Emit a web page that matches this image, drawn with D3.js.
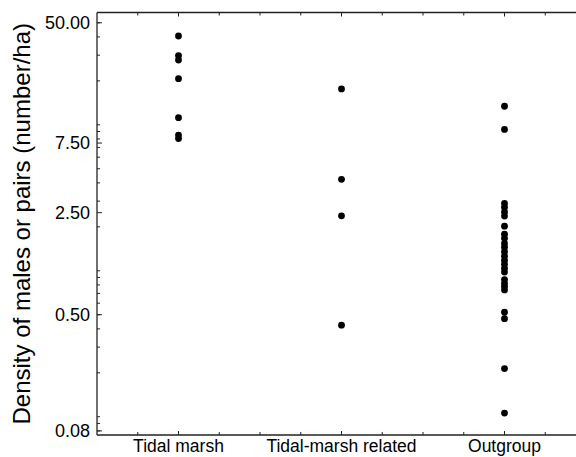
<!DOCTYPE html>
<html>
<head>
<meta charset="utf-8">
<script src="https://cdn.jsdelivr.net/npm/d3@7"></script>
<style>
  html, body { margin: 0; padding: 0; background: #fff; }
  svg { display: block; }
  text { font-family: "Liberation Sans", Arial, Helvetica, sans-serif; fill: #000; }
</style>
</head>
<body>
<script>
// Breeding density by group (number of males or pairs per ha)
const categories = ["Tidal marsh", "Tidal-marsh related", "Outgroup"];
const tidalMarsh = [40.6, 29.8, 27.8, 20.7, 11.2, 8.5, 8.05];
const tidalMarshRelated = [17.6, 4.23, 2.38, 0.424];
const outgroup = [13.4, 9.3, 2.89, 2.72, 2.53, 2.37, 2.02, 1.78, 1.67, 1.54, 1.45,
  1.35, 1.26, 1.18, 1.11, 1.04, 0.98, 0.87, 0.82, 0.78, 0.74, 0.52, 0.47, 0.214, 0.106];
const yTickValues = [0.08, 0.5, 2.5, 7.5, 50];
const yTickLabels = ["0.08", "0.50", "2.50", "7.50", "50.00"];
const yTitle = "Density of males or pairs (number/ha)";

const series = [tidalMarsh, tidalMarshRelated, outgroup];

const W = 576, H = 457;
const margin = { left: 97, top: 12.5, bottom: 22 };
const plotRight = 586;   // frame continues past the right edge of the page
const plotBottom = H - margin.bottom;

const svg = d3.select("body").append("svg")
  .attr("width", W).attr("height", H);

// x: category index, half a step of room on either side
const x = d3.scaleLinear().domain([0.5, 3.5]).range([margin.left, plotRight]);
const y = d3.scaleLog().domain([0.075, 58.8]).range([plotBottom, margin.top]);

const axisColor = "#222";

// minor x ticks at quarter steps, majors at the categories
const xMinor = d3.range(0.75, 3.5, 0.25);
const xMajor = [1, 2, 3];

const frame = svg.append("g");
// frame lines: left, bottom, top
frame.append("line").attr("x1", margin.left).attr("x2", margin.left)
  .attr("y1", margin.top).attr("y2", plotBottom);
frame.append("line").attr("x1", margin.left).attr("x2", plotRight)
  .attr("y1", plotBottom).attr("y2", plotBottom);
frame.append("line").attr("x1", margin.left).attr("x2", plotRight)
  .attr("y1", margin.top).attr("y2", margin.top);
frame.selectAll("line").attr("stroke", axisColor).attr("stroke-width", 1.3);

// x ticks, pointing inward on bottom and top
const xt = svg.append("g").attr("stroke", axisColor).attr("stroke-width", 1);
xMinor.forEach(v => {
  const len = xMajor.includes(v) ? 4 : 3;
  xt.append("line").attr("x1", x(v)).attr("x2", x(v))
    .attr("y1", plotBottom).attr("y2", plotBottom - len);
  xt.append("line").attr("x1", x(v)).attr("x2", x(v))
    .attr("y1", margin.top).attr("y2", margin.top + len);
});

// y minor ticks from the log scale, labelled ticks on top
const yMinor = y.ticks().filter(v => v >= y.domain()[0] && v <= y.domain()[1]);
const yt = svg.append("g").attr("stroke", axisColor).attr("stroke-width", 1);
yMinor.forEach(v => {
  yt.append("line").attr("x1", margin.left).attr("x2", margin.left + 3)
    .attr("y1", y(v)).attr("y2", y(v));
});
yTickValues.forEach(v => {
  yt.append("line").attr("x1", margin.left).attr("x2", margin.left + 5)
    .attr("y1", y(v)).attr("y2", y(v));
});

// y tick labels
svg.append("g").selectAll("text")
  .data(yTickValues)
  .join("text")
  .attr("x", margin.left - 7)
  .attr("y", d => y(d))
  .attr("dy", "0.35em")
  .attr("text-anchor", "end")
  .attr("font-size", 18)
  .text((d, i) => yTickLabels[i]);

// category labels
svg.append("g").selectAll("text")
  .data(categories)
  .join("text")
  .attr("x", (d, i) => x(i + 1))
  .attr("y", 452)
  .attr("text-anchor", "middle")
  .attr("font-size", 17.5)
  .text(d => d);

// y axis title
svg.append("text")
  .attr("transform", `translate(30, ${(margin.top + plotBottom) / 2}) rotate(-90)`)
  .attr("text-anchor", "middle")
  .attr("font-size", 24)
  .text(yTitle);

// points
const pts = series.flatMap((vals, i) => vals.map(v => ({ c: i + 1, v })));
svg.append("g").selectAll("circle")
  .data(pts)
  .join("circle")
  .attr("cx", d => x(d.c))
  .attr("cy", d => y(d.v))
  .attr("r", 3.4)
  .attr("fill", "#000");
</script>
</body>
</html>
